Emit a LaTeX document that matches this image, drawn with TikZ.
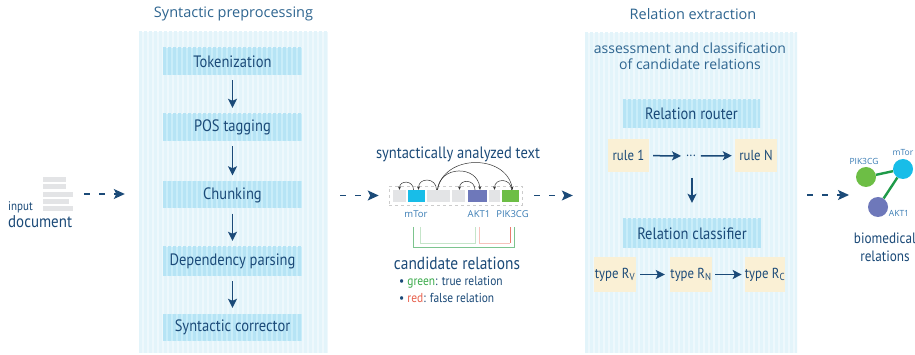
\documentclass[tikz,border=0pt]{standalone}
\usepackage{fontspec}
\setmainfont{Open Sans}
\newfontfamily\condfont[FakeStretch=0.88]{PT Sans}
\usetikzlibrary{arrows.meta}

\definecolor{navy}{HTML}{1B4A78}
\definecolor{titleblue}{HTML}{2E6590}
\definecolor{panelbg}{HTML}{EEF8FC}
\definecolor{panelstripe}{HTML}{E3F4FA}
\definecolor{boxbg}{HTML}{C9EDF9}
\definecolor{boxstripe}{HTML}{B6E4F5}
\definecolor{tanbox}{HTML}{FAF0D5}
\definecolor{tokgray}{HTML}{E3E4E6}
\definecolor{tokcyan}{HTML}{18BDE8}
\definecolor{tokpurple}{HTML}{6E78BA}
\definecolor{tokgreen}{HTML}{6DBE45}
\definecolor{edgegreen}{HTML}{1E9A48}
\definecolor{labelblue}{HTML}{3B7DB5}
\definecolor{relgreen}{HTML}{7CC48E}
\definecolor{relpalegreen}{HTML}{C5E5C9}
\definecolor{relpalered}{HTML}{F6C3BC}
\definecolor{relred}{HTML}{E97B6E}
\definecolor{txtgreen}{HTML}{3AAA4A}
\definecolor{txtred}{HTML}{E8604C}
\definecolor{arcgray}{HTML}{333333}

\tikzset{
  stripes/.style 2 args={path picture={
      \foreach \k in {0,2,...,100}{
        \fill[#1] ([xshift=\k*#2]path picture bounding box.south west)
          rectangle ++(#2,400pt);}}},
  panel/.style={fill=panelbg, draw=none, stripes={panelstripe}{2.5pt}},
  procbox/.style={fill=boxbg, stripes={boxstripe}{2.5pt}, minimum width=139pt,
    minimum height=27pt, inner sep=0pt, text=navy,
    font=\condfont\fontsize{16.5}{18}\selectfont},
  tanbox/.style={fill=tanbox, minimum height=33pt, inner sep=0pt, text=navy,
    font=\condfont\fontsize{14.5}{16}\selectfont},
  navyarrow/.style={draw=navy, line width=1.5pt,
    -{Stealth[length=9pt,width=9pt,inset=2pt]}},
  dasharrow/.style={draw=navy, line width=1.2pt, dash pattern=on 6pt off 9pt,
    -{Stealth[length=11pt,width=10pt,inset=2.5pt]}},
  tok/.style={minimum height=12pt, inner sep=0pt, fill=#1},
  dep/.style={draw=arcgray, line width=0.5pt, -{Stealth[length=3.5pt,width=3pt]}},
  title/.style={text=titleblue, font=\fontsize{14.5}{16}\selectfont},
  toklabel/.style={text=labelblue, font=\fontsize{9.5}{11}\selectfont},
  biolabel/.style={text=labelblue, font=\fontsize{8.5}{9}\selectfont},
  bar/.style={fill=tokgray, draw=none},
  bio/.style={circle, minimum size=20pt, inner sep=0pt, fill=#1},
  condtext/.style={text=navy, font=\condfont\fontsize{16}{18}\selectfont},
}

\begin{document}
\begin{tikzpicture}[x=1pt,y=-1pt]
\useasboundingbox (0,0) rectangle (915,355);
\fill[white] (0,0) rectangle (915,355);

% ---------- input document ----------
\node[minimum width=30pt, minimum height=34pt, inner sep=0pt] (doc) at (58,194) {};
\fill[bar] (43,177) rectangle (66,182);
\fill[bar] (43,184) rectangle (66,189);
\fill[bar] (43,192) rectangle (73,197);
\fill[bar] (43,199) rectangle (69,204);
\fill[bar] (43,206) rectangle (73,211);
\node[anchor=base west, inner sep=0pt, text=navy,
  font=\condfont\fontsize{12.5}{13}\selectfont] (inlbl) at (8,211) {input};
\node[anchor=base west, inner sep=0pt, text=navy,
  font=\condfont\fontsize{17}{18}\selectfont] (doclbl) at (8,228) {document};

% ---------- syntactic preprocessing ----------
\node[panel, minimum width=189pt, minimum height=321pt, inner sep=0pt] (p1) at (233.5,192.5) {};
\node[title] (p1title) at (233.5,14) {Syntactic preprocessing};
\node[procbox] (tokz) at (232.5,61.5) {Tokenization};
\node[procbox] (pos)  at (232.5,127.5) {POS tagging};
\node[procbox] (chk)  at (232.5,195) {Chunking};
\node[procbox, minimum height=29pt] (dep) at (232.5,261.5) {Dependency parsing};
\node[procbox] (cor)  at (232.5,327.5) {Syntactic corrector};
\foreach \a/\b in {tokz/pos, pos/chk, chk/dep, dep/cor}
  \draw[navyarrow, shorten <=5pt, shorten >=6pt] (\a) -- (\b);

\draw[dasharrow, shorten <=11pt, shorten >=14pt] (doc.east) -- (p1.west |- doc.east);

% ---------- syntactically analyzed text ----------
\node[condtext, font=\condfont\fontsize{16.5}{18}\selectfont] (satitle) at (458,154) {syntactically analyzed text};
\node[draw=gray!40, dashed, line width=0.6pt, minimum width=133pt, minimum height=19pt,
  inner sep=0pt] (row) at (455.5,195.5) {};
\node[tok=tokgray,   minimum width=13pt] (t1) at (399.5,196) {};
\node[tok=tokcyan,   minimum width=17pt] (t2) at (416.5,196) {};
\node[tok=tokgray,   minimum width=23pt] (t3) at (438.5,196) {};
\node[tok=tokgray,   minimum width=13pt] (t4) at (458.5,196) {};
\node[tok=tokpurple, minimum width=19pt] (t5) at (477,196) {};
\node[tok=tokgray,   minimum width=11pt] (t6) at (494.5,196) {};
\node[tok=tokgreen,  minimum width=17pt] (t7) at (510.5,196) {};

\draw[dep] ([xshift=-3pt]t2.north) to[out=90, in=90, looseness=1.8] (t1.north);
\draw[dep] ([xshift=-2pt]t3.north) to[out=90, in=90, looseness=1.8] ([xshift=2pt]t2.north);
\draw[dep] ([xshift=-1pt]t3.north) to[out=85, in=95, looseness=1.5] ([xshift=3pt]t5.north);
\draw[dep] ([xshift=-1pt]t3.north) to[out=80, in=100, looseness=1.25] ([xshift=2pt]t7.north);
\draw[dep] ([xshift=-2pt]t5.north) to[out=90, in=90, looseness=1.8] ([xshift=1pt]t4.north);
\draw[dep] ([xshift=1pt]t7.north) to[out=90, in=90, looseness=1.8] (t6.north);

\node[toklabel] (lmtor) at (416,214) {mTor};
\node[toklabel] (lakt)  at (479,214) {AKT1};
\node[toklabel] (lpik)  at (512.5,214) {PIK3CG};

% candidate relation brackets
\draw[relgreen, line width=0.9pt] (413,227) -- (413,247) -- (514,247) -- (514,227);
\draw[relpalegreen, line width=0.9pt] (420,227) -- (420,243) -- (475,243) -- (475,227);
\draw[relpalered, line width=0.9pt] (479,227) -- (479,243) -- (510,243);
\draw[relred, line width=0.9pt] (510,243) -- (510,227);

\node[condtext, font=\condfont\fontsize{17.5}{19}\selectfont] (cand) at (457,263) {candidate relations};
\node[anchor=base west, inner sep=0pt, text=navy,
  font=\condfont\fontsize{13}{14}\selectfont] (bgreen) at (399,286)
  {\textbullet\ \textcolor{txtgreen}{green}: true relation};
\node[anchor=base west, inner sep=0pt, text=navy,
  font=\condfont\fontsize{13}{14}\selectfont] (bred) at (399,302)
  {\textbullet\ \textcolor{txtred}{red}: false relation};

\draw[dasharrow, shorten <=12pt, shorten >=10pt] (p1.east |- row.west) -- (row.west);

% ---------- relation extraction ----------
\node[panel, minimum width=212pt, minimum height=320pt, inner sep=0pt] (p2) at (691,193) {};
\node[title] (p2title) at (693,14) {Relation extraction};
\node[text=titleblue, align=center, font=\fontsize{14}{16.5}\selectfont] (assess) at (690,56)
  {assessment and classification\\of candidate relations};

\node[procbox, minimum width=137pt, minimum height=28pt] (router) at (691.5,114) {Relation router};
\node[tanbox, minimum width=41pt] (r1) at (628.5,155.5) {rule 1};
\node[text=navy, inner sep=0pt, font=\condfont\fontsize{14}{16}\selectfont] (dots) at (691,156) {...};
\node[tanbox, minimum width=42pt] (rn) at (756,155.5) {rule N};
\draw[navyarrow, shorten <=4pt, shorten >=5pt] (r1) -- (dots);
\draw[navyarrow, shorten <=5pt, shorten >=3pt] (dots) -- (rn);

\node[procbox, minimum width=138pt, minimum height=29pt] (cls) at (692,233.5) {Relation classifier};
\coordinate (clsin) at (692,178);
\draw[navyarrow, shorten >=16pt] (clsin) -- (cls.north);

\node[tanbox, minimum width=42pt, minimum height=35pt] (tv) at (615,274.5) {type R\textsubscript{V}};
\node[tanbox, minimum width=42pt, minimum height=35pt] (tn) at (691,274.5) {type R\textsubscript{N}};
\node[tanbox, minimum width=40pt, minimum height=35pt] (tc) at (765,274.5) {type R\textsubscript{C}};
\draw[navyarrow, shorten <=4pt, shorten >=5pt] (tv) -- (tn);
\draw[navyarrow, shorten <=3pt, shorten >=3pt] (tn) -- (tc);

\draw[dasharrow, shorten <=12pt, shorten >=12pt] (row.east) -- (p2.west |- row.east);

% ---------- biomedical relations ----------
\node[bio=tokgreen]  (pik)  at (866,177) {};
\node[bio=tokcyan]   (mtor) at (903,169) {};
\node[bio=tokpurple] (akt)  at (878,207) {};
\draw[edgegreen, line width=2.4pt] (pik) -- (mtor);
\draw[edgegreen, line width=2.4pt] (mtor) -- (akt);
\node[biolabel] (lpik2)  at (864,161) {PIK3CG};
\node[biolabel] (lmtor2) at (903,153) {mTor};
\node[biolabel] (lakt2)  at (899,213) {AKT1};
\node[condtext, align=center, font=\condfont\fontsize{15}{18}\selectfont] (bio) at (885,247)
  {biomedical\\relations};

\coordinate (bioin) at (849,195);
\draw[dasharrow, shorten <=10pt] (p2.east |- bioin) -- (bioin);
\end{tikzpicture}
\end{document}
